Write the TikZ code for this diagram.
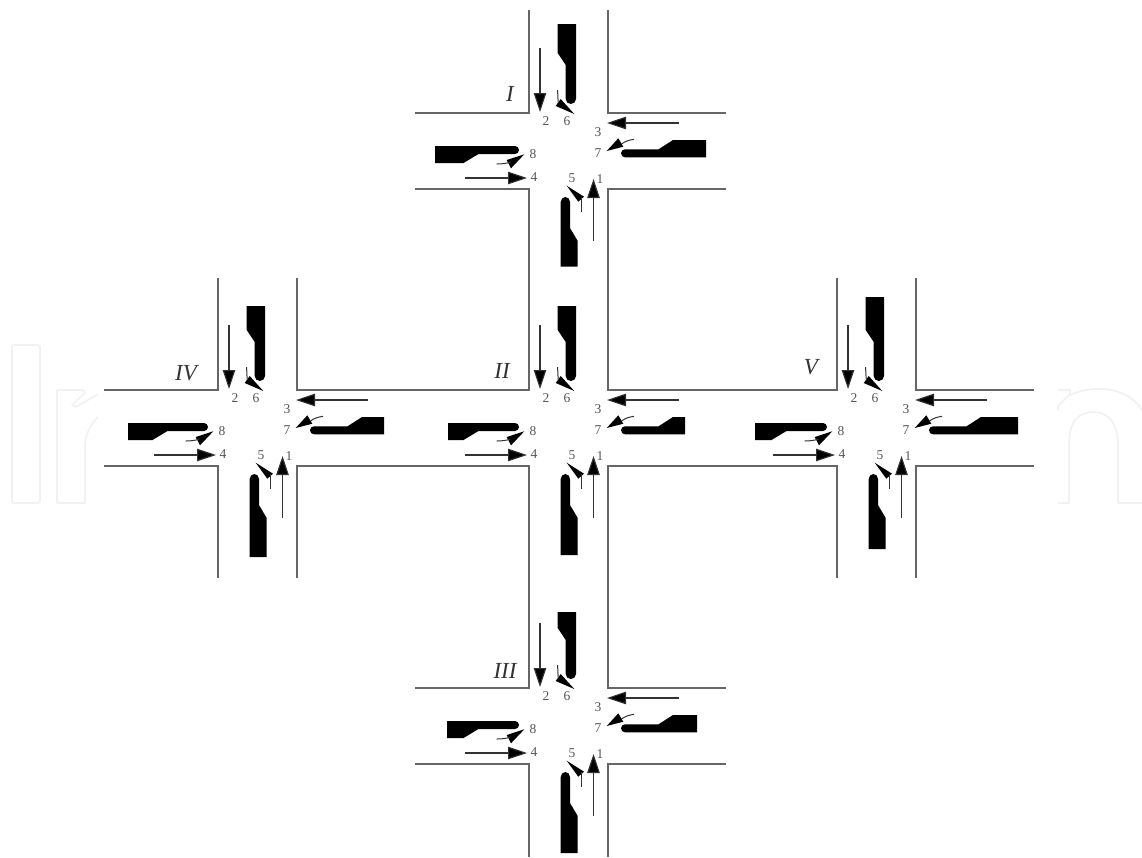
\documentclass[tikz,border=0pt]{standalone}
\usepackage{fontspec}
\setmainfont{Liberation Serif}
\usetikzlibrary{arrows.meta}
\definecolor{roadc}{HTML}{666666}
\definecolor{numc}{HTML}{555555}
\definecolor{wmark}{HTML}{F1F1F1}
\tikzset{
  road/.style={draw=roadc,line width=1.3pt,line join=miter},
  island/.style={fill=black,draw=none},
  mainarrow/.style={draw=black!80,line width=1.1pt,-{Triangle[length=19pt,width=12.5pt,fill=black]}},
  turnhead/.style={fill=black,draw=none},
  turntail/.style={draw=black!80,line width=1pt},
  num/.style={text=numc,font=\fontsize{13.5}{14}\selectfont,inner sep=0pt},
  roman/.style={text=black!80,font=\fontsize{23}{24}\itshape\selectfont,inner sep=0pt},
  wm/.style={draw=wmark,line width=1.6pt,line join=round}
}
% name, cx, cy, north top, south bottom, east end, west end (all relative to centre)
\newcommand{\junction}[7]{%
\begin{scope}[shift={(#2,#3)}]
  \coordinate (#1nw) at (-39.5,-38);
  \coordinate (#1ne) at (39.5,-38);
  \coordinate (#1sw) at (-39.5,38);
  \coordinate (#1se) at (39.5,38);
  % islands
  \fill[island] (-10.8,#4) -- (7.5,#4) -- (7.5,-52) arc[start angle=0,end angle=-180,x radius=5.15pt,y radius=5pt] -- (-2.8,-86) -- (-10.8,-98) -- cycle;
  \fill[island] (-7.8,#5) -- (9.2,#5) -- (9.2,90) -- (1.5,77) -- (1.5,51) arc[start angle=0,end angle=180,x radius=4.65pt,y radius=5pt] -- cycle;
  \fill[island] (#6,-11) -- (#6,6.3) -- (56.5,6.3) arc[start angle=-90,end angle=-270,radius=4pt] -- (90,-1.7) -- (104.5,-11) -- cycle;
  \fill[island] (#7,-5) -- (#7,12) -- (-105,12) -- (-90,3) -- (-53.5,3) arc[start angle=-90,end angle=90,radius=4pt] -- cycle;
  % straight arrows
  \coordinate (#1a2s) at (-28.5,-103); \coordinate (#1a2e) at (-28.5,-39);
  \coordinate (#1a1s) at (25,90);      \coordinate (#1a1e) at (25,28);
  \coordinate (#1a3s) at (110.5,-28);  \coordinate (#1a3e) at (38.5,-28);
  \coordinate (#1a4s) at (-103.5,27);  \coordinate (#1a4e) at (-41.5,27);
  \draw[mainarrow] (#1a2s) -- (#1a2e);
  \draw[mainarrow] (#1a1s) -- (#1a1e);
  \draw[mainarrow] (#1a3s) -- (#1a3e);
  \draw[mainarrow] (#1a4s) -- (#1a4e);
  % turn arrows
  \fill[turnhead] (5.8,-37) -- (-12.8,-45) -- (-7.8,-52) -- cycle;
  \draw[turntail] (-10.8,-61) .. controls (-10.8,-56) and (-10.6,-53) .. (-10.2,-48);
  \fill[turnhead] (38.2,0) -- (54.8,-4.3) -- (49.8,-12.7) -- cycle;
  \draw[turntail] (53,-7) .. controls (57,-10) and (61,-11) .. (65.5,-11.7);
  \fill[turnhead] (-44.2,3.3) -- (-61.8,9) -- (-57.5,17.3) -- cycle;
  \draw[turntail] (-58,11) .. controls (-62,12.5) and (-67,13) .. (-71.8,13);
  \fill[turnhead] (-1.8,34.7) -- (15.5,45.7) -- (9.8,50.7) -- cycle;
  \draw[turntail] (13.2,46) -- (13.2,61.3);
  % numbers
  \node[num] (#1n1) at (31.5,28) {1};
  \node[num] (#1n2) at (-22.5,-30) {2};
  \node[num] (#1n3) at (29.5,-19) {3};
  \node[num] (#1n4) at (-34.5,26) {4};
  \node[num] (#1n5) at (3.5,27) {5};
  \node[num] (#1n6) at (-1.5,-30) {6};
  \node[num] (#1n7) at (29.5,2) {7};
  \node[num] (#1n8) at (-35.5,3) {8};
\end{scope}}
\begin{document}
\begin{tikzpicture}[x=1pt,y=-1pt]
\useasboundingbox (0,0) rectangle (1142,857);
\fill[white] (0,0) rectangle (1142,857);
% faint watermark
\draw[wm,rounded corners=2pt] (12,345) rectangle (40,503);
\draw[wm] (98,394) -- (76,407) -- (72,405) -- (85,393) -- (83,390) -- (57,390) -- (57,503) -- (85,503) -- (85,447) .. controls (85,435) and (90,425) .. (98,417);
\draw[wm] (1058,390) -- (1070,390) -- (1070,394) -- (1058,406) -- (1058,410);
\draw[wm] (1070,395) .. controls (1090,386) and (1125,384) .. (1142,410);
\draw[wm] (1058,503) -- (1069,503) -- (1069,445) .. controls (1069,420) and (1080,412) .. (1093,412) .. controls (1108,412) and (1118,423) .. (1118,445) -- (1118,503) -- (1142,503);
\junction{A}{568.5}{151}{-127}{115.7}{137.5}{-133.5}
\junction{B}{568.5}{428}{-122}{127}{116.5}{-120.5}
\junction{C}{568.5}{726}{-114}{127}{128.5}{-121.5}
\junction{D}{257.5}{428}{-122}{129}{126.5}{-129.5}
\junction{E}{876.5}{428}{-131}{121}{141.5}{-121.5}
% road ends
\coordinate (Atl) at (529,10); \coordinate (Atr) at (608,10);
\coordinate (Awn) at (415,113); \coordinate (Aws) at (415,189);
\coordinate (Aen) at (726,113); \coordinate (Aes) at (726,189);
\coordinate (Cwn) at (415,688); \coordinate (Cws) at (415,764);
\coordinate (Cen) at (726,688); \coordinate (Ces) at (726,764);
\coordinate (Cbl) at (529,857); \coordinate (Cbr) at (608,857);
\coordinate (Dtl) at (218,278); \coordinate (Dtr) at (297,278);
\coordinate (Dbl) at (218,578); \coordinate (Dbr) at (297,578);
\coordinate (Dwn) at (104,390); \coordinate (Dws) at (104,466);
\coordinate (Etl) at (837,278); \coordinate (Etr) at (916,278);
\coordinate (Ebl) at (837,578); \coordinate (Ebr) at (916,578);
\coordinate (Een) at (1034,390); \coordinate (Ees) at (1034,466);
\draw[road] (Awn) -- (Anw) -- (Atl);
\draw[road] (Aen) -- (Ane) -- (Atr);
\draw[road] (Aws) -- (Asw) -- (Bnw) -- (Dne) -- (Dtr);
\draw[road] (Aes) -- (Ase) -- (Bne) -- (Enw) -- (Etl);
\draw[road] (Cwn) -- (Cnw) -- (Bsw) -- (Dse) -- (Dbr);
\draw[road] (Cen) -- (Cne) -- (Bse) -- (Esw) -- (Ebl);
\draw[road] (Cws) -- (Csw) -- (Cbl);
\draw[road] (Ces) -- (Cse) -- (Cbr);
\draw[road] (Dwn) -- (Dnw) -- (Dtl);
\draw[road] (Dws) -- (Dsw) -- (Dbl);
\draw[road] (Een) -- (Ene) -- (Etr);
\draw[road] (Ees) -- (Ese) -- (Ebr);
% labels
\node[roman] (lI) at (510,94) {I};
\node[roman] (lII) at (502,371) {II};
\node[roman] (lIII) at (505,671) {III};
\node[roman] (lIV) at (186,373) {IV};
\node[roman] (lV) at (811,367) {V};
\end{tikzpicture}
\end{document}
